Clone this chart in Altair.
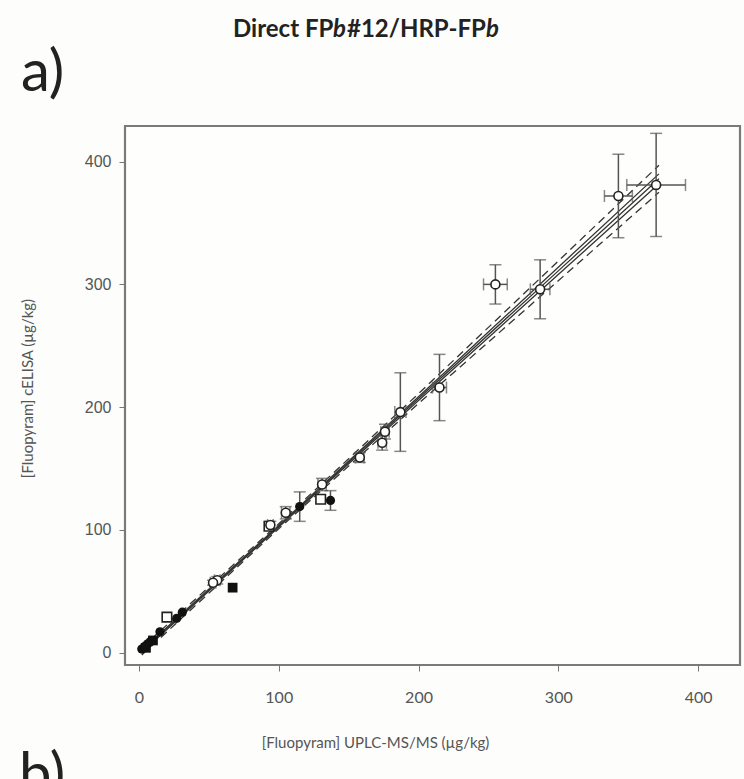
import altair as alt
import pandas as pd

# ---------------- data ----------------
# open circles (with x and y error bars)
oc_x    = [370, 343, 255, 287, 215, 187, 176, 174, 158, 131, 105, 94, 56, 53]
oc_y    = [381, 372, 300, 296, 216, 196, 180, 171, 159, 137, 114, 104, 59, 57]
oc_xerr = [21, 10, 8.5, 7, 5, 4, 3, 3, 3, 3, 3, 2, 2, 2]
oc_yerr = [42, 34, 16, 24, 27, 32, 6, 6, 4, 5, 5, 3, 3, 2]

# open squares
os_x = [20, 130, 93]
os_y = [29, 125, 103]

# filled circles
fc_x    = [2, 4, 6, 8, 15, 27, 31, 115, 137]
fc_y    = [3, 5, 7, 9, 17, 28, 33, 119, 124]
fc_yerr = [0, 0, 0, 0, 0, 0, 0, 12, 8]

# filled squares
fs_x = [67, 5, 10]
fs_y = [53, 4, 10]

# regression line and bands
line_x   = [2, 100, 200, 300, 372]
reg_y    = [1.1, 103, 207, 311, 386]
inner_hi = [2.1, 103.7, 208.5, 314, 390]
inner_lo = [0.1, 102.3, 205.5, 308, 382]
band_hi  = [4.1, 105, 211, 319, 397]
band_lo  = [-1.9, 101, 203, 303, 375]

x_ticks = [0, 100, 200, 300, 400]
y_ticks = [0, 100, 200, 300, 400]

# ---------------- tables ----------------
oc = pd.DataFrame({"x": oc_x, "y": oc_y,
                   "xlo": [a - e for a, e in zip(oc_x, oc_xerr)],
                   "xhi": [a + e for a, e in zip(oc_x, oc_xerr)],
                   "ylo": [a - e for a, e in zip(oc_y, oc_yerr)],
                   "yhi": [a + e for a, e in zip(oc_y, oc_yerr)]})
fce = pd.DataFrame({"x": fc_x, "y": fc_y, "e": fc_yerr})
fce = fce[fce.e > 0].copy()
fce["ylo"] = fce.y - fce.e
fce["yhi"] = fce.y + fce.e

vbars = pd.concat([oc[["x", "ylo", "yhi"]], fce[["x", "ylo", "yhi"]]])
vcaps = pd.concat([vbars[["x"]].assign(y=vbars.ylo), vbars[["x"]].assign(y=vbars.yhi)])
hcaps = pd.concat([oc[["y"]].assign(x=oc.xlo), oc[["y"]].assign(x=oc.xhi)])

lines = []
for name, ys in [("reg", reg_y), ("ihi", inner_hi), ("ilo", inner_lo)]:
    for xv, yv in zip(line_x, ys):
        lines.append({"x": xv, "y": yv, "s": name})
solid = pd.DataFrame(lines)
dl = []
for name, ys in [("bhi", band_hi), ("blo", band_lo)]:
    for xv, yv in zip(line_x, ys):
        dl.append({"x": xv, "y": yv, "s": name})
dashed = pd.DataFrame(dl)

X = alt.X("x:Q", scale=alt.Scale(domain=[-10, 430], nice=False, zero=False),
          axis=alt.Axis(values=x_ticks, title="[Fluopyram] UPLC-MS/MS (µg/kg)",
                        titleX=250, titleY=77, titleAlign="center",
                        titleBaseline="middle", titleFont="Lato",
                        titleFontSize=15, titleFontWeight="normal",
                        titleColor="#555", labelFont="Lato", labelFontSize=16,
                        labelColor="#555", labelPadding=18, tickSize=6,
                        tickColor="#777", domain=False, grid=False))
Y = alt.Y("y:Q", scale=alt.Scale(domain=[-10, 429], nice=False, zero=False),
          axis=alt.Axis(values=y_ticks, title="[Fluopyram] cELISA (µg/kg)",
                        titleX=-98, titleY=262, titleAlign="center",
                        titleBaseline="middle", titleFont="Lato",
                        titleFontSize=15, titleFontWeight="normal",
                        titleColor="#555", labelFont="Liberation Sans",
                        labelFontSize=16, labelColor="#555", labelPadding=8,
                        tickSize=6, tickColor="#777", domain=False, grid=False))

err_col = "#555"
vbar = alt.Chart(vbars).mark_rule(color=err_col, strokeWidth=1.5).encode(
    x=X, y="ylo:Q", y2="yhi:Q")
hbar = alt.Chart(oc).mark_rule(color=err_col, strokeWidth=1.5).encode(
    y=Y, x="xlo:Q", x2="xhi:Q")
vcap = alt.Chart(vcaps).mark_tick(orient="horizontal", color=err_col,
                                  size=12, thickness=1.5).encode(x="x:Q", y="y:Q")
hcap = alt.Chart(hcaps).mark_tick(orient="vertical", color=err_col,
                                  size=12, thickness=1.5).encode(x="x:Q", y="y:Q")

sline = alt.Chart(solid).mark_line(color="#333", strokeWidth=1.3).encode(
    x="x:Q", y="y:Q", detail="s:N")
dline = alt.Chart(dashed).mark_line(color="#333", strokeWidth=1.3,
                                    strokeDash=[8, 5]).encode(
    x="x:Q", y="y:Q", detail="s:N")

fc_pts = alt.Chart(pd.DataFrame({"x": fc_x, "y": fc_y})).mark_point(
    shape="circle", filled=True, color="#111", size=85, opacity=1).encode(x="x:Q", y="y:Q")
fs_pts = alt.Chart(pd.DataFrame({"x": fs_x, "y": fs_y})).mark_point(
    shape="square", filled=True, color="#111", size=95, opacity=1).encode(x="x:Q", y="y:Q")
os_pts = alt.Chart(pd.DataFrame({"x": os_x, "y": os_y})).mark_point(
    shape="square", filled=True, fill="white", stroke="#222", strokeWidth=1.6,
    size=90, opacity=1).encode(x="x:Q", y="y:Q")
oc_pts = alt.Chart(oc).mark_point(
    shape="circle", filled=True, fill="white", stroke="#222", strokeWidth=1.6,
    size=80, opacity=1).encode(x="x:Q", y="y:Q")

one = pd.DataFrame({"k": [0]})
def label(txt, x, y, size, weight="normal", style="normal", font="Lato",
          color="#222", baseline="middle"):
    return alt.Chart(one).mark_text(text=txt, font=font, fontSize=size,
                                    fontWeight=weight, fontStyle=style,
                                    color=color, align="left",
                                    baseline=baseline).encode(
        x=alt.value(x), y=alt.value(y))

title_parts = [
    label("Direct FP", 108, -96, 24, weight="bold"),
    label("b", 208, -96, 24, weight="bold", style="italic"),
    label("#12/HRP-FP", 222, -96, 24, weight="bold"),
    label("b", 361, -96, 24, weight="bold", style="italic"),
]
a_lab = label("a)", -104, -52, 58, color="#222")
b_lab = label("b)", -106, 668, 58, color="#222", baseline="alphabetic")

bg = alt.Chart(one).mark_point(opacity=0).encode(x=X, y=Y)

chart = alt.layer(
    bg, dline, sline, vbar, hbar, vcap, hcap,
    fc_pts, fs_pts, os_pts, oc_pts, *title_parts, a_lab, b_lab
).properties(
    width=615, height=539,
    autosize=alt.AutoSizeParams(type="none"),
    padding={"left": 125, "top": 126, "right": 4, "bottom": 114},
    background="#fdfdfb",
).configure_view(stroke="#7a7a7a", strokeWidth=2.2, fill="#fefefc")

chart.save("out.html", embed_options={"renderer": "svg", "actions": False})
